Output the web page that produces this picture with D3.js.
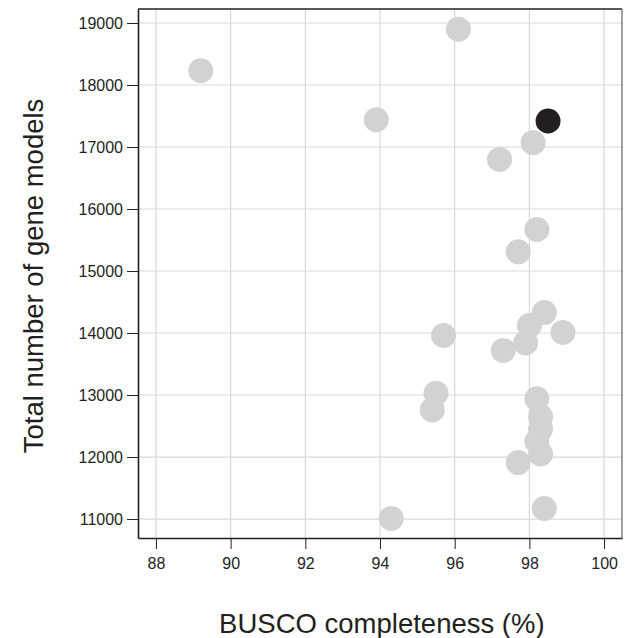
<!DOCTYPE html>
<html>
<head>
<meta charset="utf-8">
<script src="https://cdn.jsdelivr.net/npm/d3@7"></script>
<style>
  body { margin: 0; background: #fff; }
  svg text { font-family: "Liberation Sans", Arial, sans-serif; fill: #231f20; }
</style>
</head>
<body>
<script>
// BUSCO completeness (%) and total gene models
const busco = [89.2, 93.9, 96.1, 98.1, 97.2, 98.2, 97.7, 98.4, 98.0, 98.9, 95.7, 97.9,
  97.3, 95.5, 95.4, 98.2, 98.3, 98.3, 98.2, 98.3, 97.7, 98.4, 94.3];
const genes = [18230, 17440, 18900, 17070, 16800, 15670, 15310, 14330, 14120, 14010, 13960, 13840,
  13720, 13030, 12760, 12940, 12650, 12450, 12250, 12050, 11910, 11170, 11010];
// highlighted genome
const hlBusco = [98.5];
const hlGenes = [17420];

const xTicks = [88, 90, 92, 94, 96, 98, 100];
const yTicks = [11000, 12000, 13000, 14000, 15000, 16000, 17000, 18000, 19000];

const width = 633, height = 638;
const margin = {top: 9, right: 11, bottom: 100, left: 138};

const svg = d3.select("body").append("svg")
  .attr("width", width)
  .attr("height", height);

const x = d3.scaleLinear().domain([87.52, 100.48]).range([margin.left, width - margin.right]);
const y = d3.scaleLinear().domain([10694, 19226]).range([height - margin.bottom, margin.top]);

//grid
svg.append("g").selectAll("line").data(xTicks).enter().append("line")
  .attr("x1", d => x(d)).attr("x2", d => x(d))
  .attr("y1", y.range()[1]).attr("y2", y.range()[0])
  .attr("stroke", "#d9d9d9").attr("stroke-width", 1.2);
svg.append("g").selectAll("line").data(yTicks).enter().append("line")
  .attr("y1", d => y(d)).attr("y2", d => y(d))
  .attr("x1", x.range()[0]).attr("x2", x.range()[1])
  .attr("stroke", "#d9d9d9").attr("stroke-width", 1.2);

//points
const pts = busco.map((b, i) => ({b: b, g: genes[i]}));
svg.append("g").selectAll("circle").data(pts).enter().append("circle")
  .attr("cx", d => x(d.b)).attr("cy", d => y(d.g)).attr("r", 12.5)
  .attr("fill", "#d1d2d4");
svg.append("g").selectAll("circle").data(hlBusco).enter().append("circle")
  .attr("cx", d => x(d)).attr("cy", (d, i) => y(hlGenes[i])).attr("r", 12.5)
  .attr("fill", "#231f20");

//frame
svg.append("line").attr("x1", x.range()[0]).attr("x2", x.range()[1])
  .attr("y1", margin.top).attr("y2", margin.top).attr("stroke", "#231f20").attr("stroke-width", 1.3);
svg.append("line").attr("x1", x.range()[1]).attr("x2", x.range()[1])
  .attr("y1", y.range()[1]).attr("y2", y.range()[0]).attr("stroke", "#6d6e71").attr("stroke-width", 1.3);

//axes
const xAxis = svg.append("g")
  .attr("transform", "translate(0," + y.range()[0] + ")")
  .call(d3.axisBottom(x).tickValues(xTicks).tickSize(11).tickPadding(9).tickSizeOuter(0));
const yAxis = svg.append("g")
  .attr("transform", "translate(" + x.range()[0] + ",0)")
  .call(d3.axisLeft(y).tickValues(yTicks).tickFormat(d3.format("d")).tickSize(11).tickPadding(4).tickSizeOuter(0));
[xAxis, yAxis].forEach(a => {
  a.select(".domain").attr("stroke", "#231f20").attr("stroke-width", 1.6);
  a.selectAll(".tick line").attr("stroke", "#231f20").attr("stroke-width", 1);
  a.selectAll(".tick text").style("font-size", "16px").attr("fill", "#231f20")
    .style("font-family", "'Liberation Sans', Arial, sans-serif");
});

//titles
svg.append("text")
  .attr("x", x(94.05)).attr("y", 633)
  .attr("text-anchor", "middle")
  .style("font-size", "27.5px")
  .text("BUSCO completeness (%)");
svg.append("text")
  .attr("transform", "translate(43," + y(14920) + ") rotate(-90)")
  .attr("text-anchor", "middle")
  .style("font-size", "27.5px")
  .text("Total number of gene models");
</script>
</body>
</html>
